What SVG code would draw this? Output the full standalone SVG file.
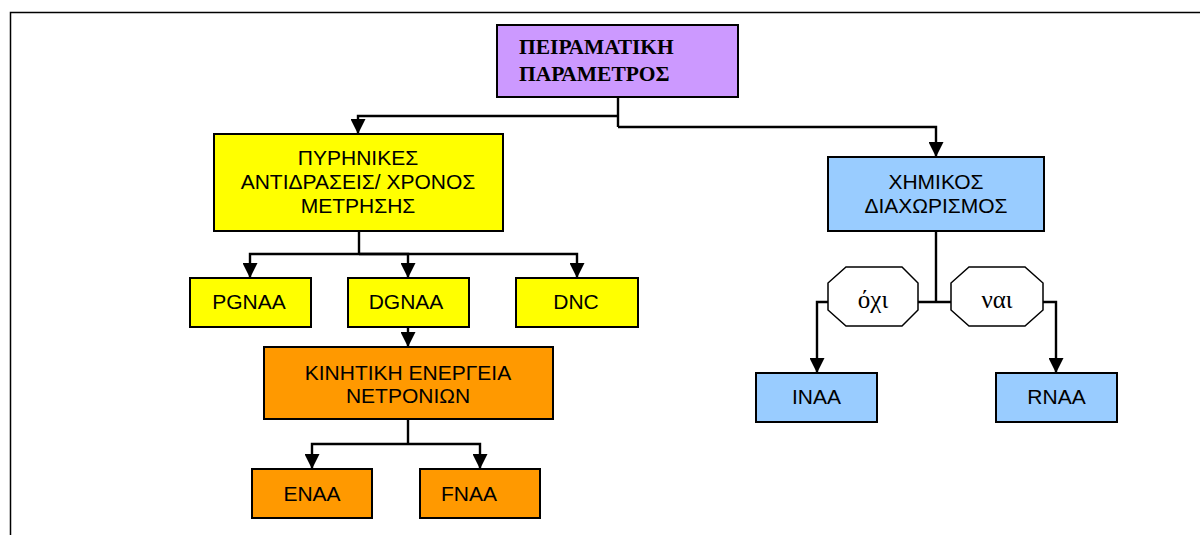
<svg xmlns="http://www.w3.org/2000/svg" width="1200" height="535" viewBox="0 0 1200 535">
<defs>
<marker id="ah" markerUnits="userSpaceOnUse" markerWidth="15" markerHeight="15" refX="15" refY="7.5" orient="auto">
<path d="M0,0 L15,7.5 L0,15 z" fill="#000"/>
</marker>
<style>
.box{stroke:#000;stroke-width:2}
.t{font-family:"Liberation Sans",Arial,sans-serif;font-size:21px;fill:#000;text-anchor:middle}
.s{font-family:"Liberation Serif","Times New Roman",serif;fill:#000}
.c{fill:none;stroke:#000;stroke-width:2.4}
.a{marker-end:url(#ah)}
</style>
</defs>
<rect width="1200" height="535" fill="#fff"/>
<rect x="10.5" y="12.5" width="1200" height="600" fill="none" stroke="#000" stroke-width="1.5"/>
<g id="connectors">
<path class="c" d="M618,97 V127"/>
<path class="c a" d="M618,116 H358 V134"/>
<path class="c a" d="M618,127 H936 V157"/>
<path class="c" d="M359,231 V254"/>
<path class="c a" d="M359,254 H250 V278"/>
<path class="c a" d="M359,254 H408 V278"/>
<path class="c a" d="M359,254 H577 V278"/>
<path class="c a" d="M408,327 V347"/>
<path class="c" d="M408,419 V444"/>
<path class="c a" d="M408,444 H312 V469"/>
<path class="c a" d="M408,444 H480 V469"/>
<path class="c" d="M936,231 V302 M918,302 H951"/>
<path class="c a" d="M828,302 H817 V373"/>
<path class="c a" d="M1043,302 H1056 V373"/>
</g>
<g id="n-param">
<rect class="box" x="497" y="25" width="241" height="72" fill="#CC99FF"/>
<text class="s" x="519" y="54" font-size="21.5" font-weight="bold">ΠΕΙΡΑΜΑΤΙΚΗ</text>
<text class="s" x="519" y="81" font-size="21.5" font-weight="bold">ΠΑΡΑΜΕΤΡΟΣ</text>
</g>
<g id="n-nuclear">
<rect class="box" x="214" y="134" width="289" height="97" fill="#FFFF00"/>
<text class="t" x="358" y="165">ΠΥΡΗΝΙΚΕΣ</text>
<text class="t" x="358" y="189">ΑΝΤΙΔΡΑΣΕΙΣ/ ΧΡΟΝΟΣ</text>
<text class="t" x="358" y="213">ΜΕΤΡΗΣΗΣ</text>
</g>
<g id="n-chem">
<rect class="box" x="828" y="157" width="216" height="74" fill="#99CCFF"/>
<text class="t" x="936" y="189">ΧΗΜΙΚΟΣ</text>
<text class="t" x="936" y="213">ΔΙΑΧΩΡΙΣΜΟΣ</text>
</g>
<g id="n-pgnaa">
<rect class="box" x="190" y="278" width="121" height="49" fill="#FFFF00"/>
<text class="t" x="249" y="309">PGNAA</text>
</g>
<g id="n-dgnaa">
<rect class="box" x="348" y="278" width="121" height="49" fill="#FFFF00"/>
<text class="t" x="406" y="309">DGNAA</text>
</g>
<g id="n-dnc">
<rect class="box" x="516" y="278" width="122" height="49" fill="#FFFF00"/>
<text class="t" x="576" y="309">DNC</text>
</g>
<g id="n-kinetic">
<rect class="box" x="264" y="347" width="289" height="72" fill="#FF9900"/>
<text class="t" x="408" y="380">ΚΙΝΗΤΙΚΗ ΕΝΕΡΓΕΙΑ</text>
<text class="t" x="408" y="403">ΝΕΤΡΟΝΙΩΝ</text>
</g>
<g id="n-enaa">
<rect class="box" x="252" y="469" width="120" height="49" fill="#FF9900"/>
<text class="t" x="312" y="501">ENAA</text>
</g>
<g id="n-fnaa">
<rect class="box" x="420" y="469" width="120" height="49" fill="#FF9900"/>
<text class="t" x="469" y="501">FNAA</text>
</g>
<g id="n-no">
<polygon points="846,267 902,267 918,283 918,310 902,326 846,326 828,310 828,283" fill="#fff" stroke="#000" stroke-width="1.5"/>
<text class="s" x="873" y="308" font-size="25" text-anchor="middle">όχι</text>
</g>
<g id="n-yes">
<polygon points="969,267 1025,267 1043,283 1043,310 1025,326 969,326 951,310 951,283" fill="#fff" stroke="#000" stroke-width="1.5"/>
<text class="s" x="997" y="308" font-size="25" text-anchor="middle">ναι</text>
</g>
<g id="n-inaa">
<rect class="box" x="756" y="373" width="121" height="49" fill="#99CCFF"/>
<text class="t" x="816.5" y="404">INAA</text>
</g>
<g id="n-rnaa">
<rect class="box" x="996" y="373" width="121" height="49" fill="#99CCFF"/>
<text class="t" x="1056.5" y="404">RNAA</text>
</g>
</svg>
